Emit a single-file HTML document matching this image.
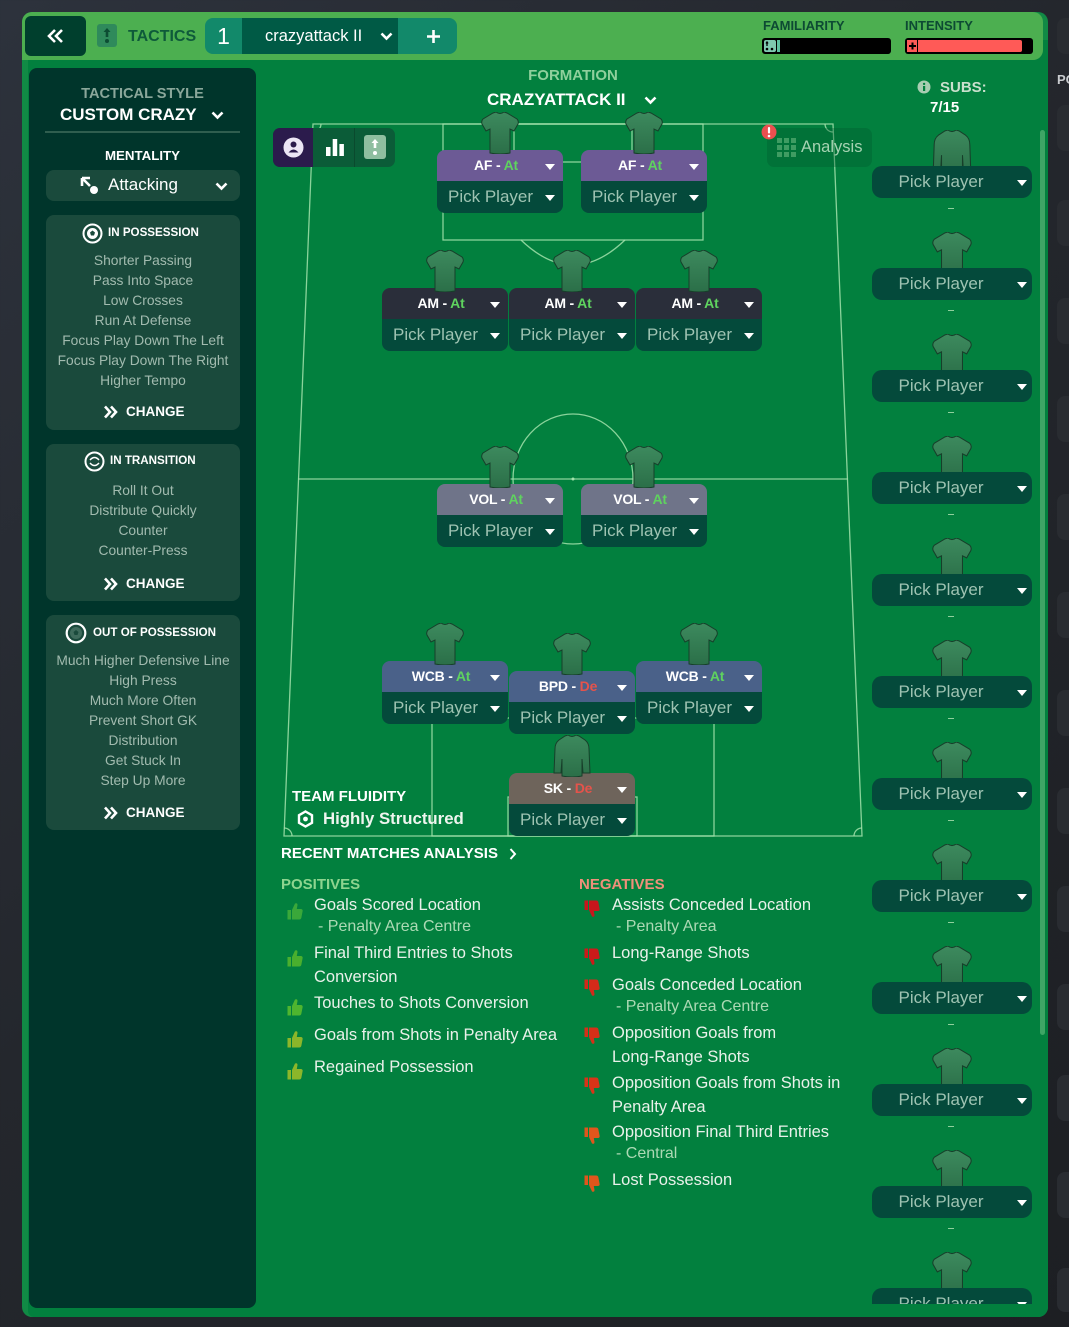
<!DOCTYPE html>
<html><head><meta charset="utf-8">
<style>
*{margin:0;padding:0;box-sizing:border-box}
html,body{width:1069px;height:1327px;overflow:hidden}
body{position:relative;background:linear-gradient(135deg,#2d323c 0%,#24272d 45%,#1d1f23 100%);font-family:"Liberation Sans",sans-serif;}
.a{position:absolute}
.t{position:absolute;white-space:nowrap}
.card{position:absolute;width:126px;z-index:3}
.role{position:relative;height:31px;line-height:31px;border-radius:8px 8px 0 0;text-align:center;font-weight:bold;font-size:14px;color:#fff;padding-right:8px;letter-spacing:-0.2px}
.pick{position:relative;height:32px;line-height:32px;border-radius:0 0 8px 8px;font-size:17px;color:#9ec3b2;padding-left:11px;background:#044a3b}
.tri{position:absolute;right:8px;top:50%;margin-top:-2px;width:0;height:0;border-left:5px solid transparent;border-right:5px solid transparent;border-top:6px solid #fff}
.r-af{background:#6c5a95}
.r-am{background:#2a2e3a}
.r-vol{background:#6f7489}
.r-wcb{background:#4a6189}
.r-sk{background:#6e645b}
.at{color:#5fd35f}
.de{color:#e5534b}
.shirt{position:absolute;z-index:4;width:40px;height:42px}
.sub{position:absolute;left:12px;width:160px;height:32px;line-height:32px;border-radius:10px;background:#044a3b;color:#9ec3b2;font-size:17px;text-align:center;padding-right:22px;z-index:2}
.sub .tri{right:5px}
.sshirt{position:absolute;left:69px;width:46px;height:44px;z-index:1}
.dash{position:absolute;left:88px;width:6px;height:1px;background:#8fd09c}
.box{position:absolute;left:46px;width:194px;background:#1a4a3c;border-radius:8px}
.item{position:absolute;left:46px;width:194px;text-align:center;font-size:13.8px;color:#a2bbaf;height:20px;line-height:20px;white-space:nowrap}
.hdr{position:absolute;font-size:11.6px;font-weight:bold;color:#fff;height:16px;line-height:16px;white-space:nowrap}
.chg{position:absolute;left:126px;font-size:13.5px;font-weight:bold;color:#fff;height:18px;line-height:18px}
.an{position:absolute;font-size:16.5px;color:#e9f1ea;height:22px;line-height:22px;white-space:nowrap}
.ans{position:absolute;font-size:16px;color:#acd9b4;height:22px;line-height:22px;white-space:nowrap}
.th{position:absolute;width:16px;height:18px}
.rb{position:absolute;left:1057px;width:30px;border-radius:8px;background:#292c31}
</style></head><body>
<svg width="0" height="0" style="position:absolute">
<defs>
<linearGradient id="sg" x1="0" y1="0" x2="0" y2="1"><stop offset="0" stop-color="#3d8a5e"/><stop offset="1" stop-color="#2b6f48"/></linearGradient>
</defs>
</svg>

<!-- right dark strip boxes -->
<div class="rb" style="top:18px;height:36px"></div>
<div class="t" style="left:1057px;top:72px;font-size:13px;font-weight:bold;color:#c9cccf">PO</div>
<div class="rb" style="top:105px;height:46px"></div>
<div class="rb" style="top:200px;height:46px"></div>
<div class="rb" style="top:298px;height:46px"></div>
<div class="rb" style="top:396px;height:46px"></div>
<div class="rb" style="top:494px;height:46px"></div>
<div class="rb" style="top:592px;height:46px"></div>
<div class="rb" style="top:690px;height:46px"></div>
<div class="rb" style="top:788px;height:46px"></div>
<div class="rb" style="top:886px;height:46px"></div>
<div class="rb" style="top:984px;height:46px"></div>
<div class="rb" style="top:1075px;height:46px"></div>
<div class="rb" style="top:1172px;height:46px"></div>
<div class="rb" style="top:1268px;height:44px"></div>

<!-- frame -->
<div class="a" style="left:22px;top:12px;width:1026px;height:1305px;background:#118a45;border-radius:10px"></div>
<div class="a" style="left:28px;top:40px;width:1020px;height:1277px;background:#02803e;border-radius:0 0 10px 6px"></div>
<div class="a" style="left:22px;top:12px;width:1021px;height:48px;background:#4caf50;border-radius:10px 10px 10px 0"></div>

<!-- top bar -->
<div class="a" style="left:25px;top:16px;width:61px;height:40px;background:#003f2d;border-radius:6px"></div>
<svg class="a" style="left:46px;top:28px" width="22" height="16" viewBox="0 0 22 16"><path d="M9 2 L3 8 L9 14 M16 2 L10 8 L16 14" fill="none" stroke="#fff" stroke-width="2.6"/></svg>
<div class="a" style="left:97px;top:24px;width:20px;height:23px;background:#2f8a5b;border-radius:3px"></div>
<svg class="a" style="left:97px;top:24px" width="20" height="23" viewBox="0 0 20 23"><path d="M10 4 L6.5 8 H8.7 V13 H11.3 V8 H13.5 Z" fill="#0c4d33"/><circle cx="10" cy="17" r="2" fill="#0c4d33"/></svg>
<div class="t" style="left:128px;top:27px;font-size:16px;font-weight:bold;color:#0e5a3a;line-height:20px">TACTICS</div>
<div class="a" style="left:205px;top:18px;width:252px;height:36px;background:#12896a;border-radius:8px"></div>
<div class="a" style="left:242px;top:18px;width:156px;height:36px;background:#005a45"></div>
<div class="t" style="left:205px;top:18px;width:37px;height:36px;line-height:36px;text-align:center;font-size:23px;color:#fff">1</div>
<div class="t" style="left:265px;top:26px;font-size:16.5px;color:#fff;line-height:20px">crazyattack II</div>
<svg class="a" style="left:380px;top:32px" width="13" height="9" viewBox="0 0 13 9"><path d="M1.5 1.5 L6.5 6.5 L11.5 1.5" fill="none" stroke="#fff" stroke-width="2.6"/></svg>
<svg class="a" style="left:426px;top:29px" width="15" height="15" viewBox="0 0 15 15"><path d="M7.5 1 V14 M1 7.5 H14" stroke="#fff" stroke-width="2.6"/></svg>

<div class="t" style="left:763px;top:18px;font-size:13px;font-weight:bold;color:#0d4a33;line-height:16px">FAMILIARITY</div>
<div class="a" style="left:762px;top:38px;width:129px;height:16px;background:#000;border-radius:3px"></div>
<div class="a" style="left:764px;top:40px;width:12px;height:12px;background:#7fc9b0;border-radius:2px"></div>
<svg class="a" style="left:764px;top:40px" width="12" height="12" viewBox="0 0 12 12"><path d="M3 2 V6 M2 3.5 L3 2 L4 3.5" stroke="#000" stroke-width="1.3" fill="none"/><circle cx="3" cy="9" r="1.3"/><circle cx="8" cy="9" r="1.3"/></svg>
<div class="a" style="left:777px;top:40px;width:3px;height:12px;background:#5fc2a2"></div>
<div class="t" style="left:905px;top:18px;font-size:13px;font-weight:bold;color:#0d4a33;line-height:16px">INTENSITY</div>
<div class="a" style="left:905px;top:38px;width:128px;height:16px;background:#000;border-radius:3px"></div>
<div class="a" style="left:907px;top:40px;width:115px;height:12px;background:#ff5a57;border-radius:2px"></div>
<div class="a" style="left:907px;top:40px;width:11px;height:12px;background:#ff5a57;border-right:1.5px solid #000"></div>
<svg class="a" style="left:907px;top:40px" width="11" height="12" viewBox="0 0 11 12"><path d="M5.5 2.5 V9.5 M2 6 H9" stroke="#000" stroke-width="2"/></svg>

<!-- left panel -->
<div class="a" style="left:29px;top:68px;width:227px;height:1240px;background:#00352b;border-radius:8px"></div>
<div class="t" style="left:29px;top:85px;width:227px;text-align:center;font-size:14.6px;font-weight:bold;color:#8aa79a;line-height:18px">TACTICAL STYLE</div>
<div class="t" style="left:60px;top:105px;font-size:17px;font-weight:bold;color:#fff;line-height:20px">CUSTOM CRAZY</div>
<svg class="a" style="left:211px;top:111px" width="13" height="9" viewBox="0 0 13 9"><path d="M1.5 1.5 L6.5 6.5 L11.5 1.5" fill="none" stroke="#fff" stroke-width="2.6"/></svg>
<div class="a" style="left:45px;top:131px;width:195px;height:2px;background:#2f5e4f"></div>
<div class="t" style="left:29px;top:148px;width:227px;text-align:center;font-size:13.3px;font-weight:bold;color:#fff;line-height:16px">MENTALITY</div>
<div class="box" style="top:170px;height:31px"></div>
<svg class="a" style="left:80px;top:176px" width="20" height="20" viewBox="0 0 20 20"><path d="M2 2 H10 M2 2 V10 M2 2 L10 10" stroke="#fff" stroke-width="2.6" fill="none"/><circle cx="14" cy="14" r="4" fill="#fff"/></svg>
<div class="t" style="left:108px;top:175px;font-size:17px;color:#fff;line-height:20px">Attacking</div>
<svg class="a" style="left:215px;top:182px" width="13" height="9" viewBox="0 0 13 9"><path d="M1.5 1.5 L6.5 6.5 L11.5 1.5" fill="none" stroke="#fff" stroke-width="2.6"/></svg>

<!-- in possession -->
<div class="box" style="top:215px;height:215px"></div>
<svg class="a" style="left:82px;top:223px" width="21" height="21" viewBox="0 0 21 21"><circle cx="10.5" cy="10.5" r="9" fill="none" stroke="#fff" stroke-width="2"/><circle cx="10.5" cy="10.5" r="5.5" fill="#fff"/><path d="M10.5 7.5 L13 9.5 L12 12.5 L9 12.5 L8 9.5Z" fill="#1a4a3c"/></svg>
<div class="hdr" style="left:108px;top:225px">IN POSSESSION</div>
<div class="item" style="top:251px">Shorter Passing</div>
<div class="item" style="top:271px">Pass Into Space</div>
<div class="item" style="top:291px">Low Crosses</div>
<div class="item" style="top:311px">Run At Defense</div>
<div class="item" style="top:331px">Focus Play Down The Left</div>
<div class="item" style="top:351px">Focus Play Down The Right</div>
<div class="item" style="top:371px">Higher Tempo</div>
<svg class="a" style="left:103px;top:405px" width="16" height="14" viewBox="0 0 16 14"><path d="M2 1.5 L7 7 L2 12.5 M8 1.5 L13 7 L8 12.5" fill="none" stroke="#fff" stroke-width="2.6"/></svg>
<div class="chg" style="top:403px">CHANGE</div>

<!-- in transition -->
<div class="box" style="top:444px;height:157px"></div>
<svg class="a" style="left:84px;top:451px" width="21" height="21" viewBox="0 0 21 21"><circle cx="10.5" cy="10.5" r="9" fill="none" stroke="#fff" stroke-width="2"/><path d="M6 9 Q10.5 4 15 9 M6 12 Q10.5 17 15 12" fill="none" stroke="#fff" stroke-width="1.5"/></svg>
<div class="hdr" style="left:110px;top:453px">IN TRANSITION</div>
<div class="item" style="top:481px">Roll It Out</div>
<div class="item" style="top:501px">Distribute Quickly</div>
<div class="item" style="top:521px">Counter</div>
<div class="item" style="top:541px">Counter-Press</div>
<svg class="a" style="left:103px;top:577px" width="16" height="14" viewBox="0 0 16 14"><path d="M2 1.5 L7 7 L2 12.5 M8 1.5 L13 7 L8 12.5" fill="none" stroke="#fff" stroke-width="2.6"/></svg>
<div class="chg" style="top:575px">CHANGE</div>

<!-- out of possession -->
<div class="box" style="top:615px;height:215px"></div>
<svg class="a" style="left:65px;top:622px" width="22" height="22" viewBox="0 0 22 22"><circle cx="11" cy="11" r="9.3" fill="none" stroke="#fff" stroke-width="2.2"/><circle cx="11" cy="11" r="6" fill="#3f6b5c"/><path d="M11 8 L13.5 10 L12.5 13 L9.5 13 L8.5 10Z" fill="#1a4a3c"/></svg>
<div class="hdr" style="left:93px;top:625px">OUT OF POSSESSION</div>
<div class="item" style="top:651px">Much Higher Defensive Line</div>
<div class="item" style="top:671px">High Press</div>
<div class="item" style="top:691px">Much More Often</div>
<div class="item" style="top:711px">Prevent Short GK</div>
<div class="item" style="top:731px">Distribution</div>
<div class="item" style="top:751px">Get Stuck In</div>
<div class="item" style="top:771px">Step Up More</div>
<svg class="a" style="left:103px;top:806px" width="16" height="14" viewBox="0 0 16 14"><path d="M2 1.5 L7 7 L2 12.5 M8 1.5 L13 7 L8 12.5" fill="none" stroke="#fff" stroke-width="2.6"/></svg>
<div class="chg" style="top:804px">CHANGE</div>

<!-- formation header -->
<div class="t" style="left:473px;top:67px;width:200px;text-align:center;font-size:15px;font-weight:bold;color:#8fd09c;line-height:18px">FORMATION</div>
<div class="t" style="left:487px;top:90px;font-size:17px;font-weight:bold;color:#fff;line-height:20px">CRAZYATTACK II</div>
<svg class="a" style="left:644px;top:96px" width="13" height="9" viewBox="0 0 13 9"><path d="M1.5 1.5 L6.5 6.5 L11.5 1.5" fill="none" stroke="#fff" stroke-width="2.6"/></svg>

<!-- subs header -->
<svg class="a" style="left:917px;top:80px" width="14" height="14" viewBox="0 0 14 14"><circle cx="7" cy="7" r="6.5" fill="#a9cdb2"/><rect x="6" y="6" width="2.2" height="5" fill="#02803e"/><circle cx="7.1" cy="3.9" r="1.2" fill="#02803e"/></svg>
<div class="t" style="left:940px;top:79px;font-size:15px;font-weight:bold;color:#c9e0cd;line-height:18px">SUBS:</div>
<div class="t" style="left:930px;top:99px;font-size:15px;font-weight:bold;color:#fff;line-height:18px">7/15</div>

<!-- pitch lines -->
<svg class="a" style="left:0;top:0;z-index:1" width="1069" height="1327" viewBox="0 0 1069 1327">
<g fill="none" stroke="#a3e2ab" stroke-width="1.3" stroke-opacity="0.85">
<polygon points="313,124 833,124 862,836 284,836"/>
<line x1="298" y1="479" x2="848" y2="479"/>
<rect x="443" y="124" width="260" height="116"/>
<rect x="514" y="124" width="118" height="38"/>
<path d="M521 240 Q573 290 625 240"/>
<ellipse cx="573" cy="479" rx="60" ry="65"/>
<rect x="432" y="718" width="282" height="118"/>
<rect x="508" y="797" width="129" height="39"/>
<path d="M321 124 A8 8 0 0 1 313 132"/>
<path d="M825 124 A8 8 0 0 0 833 132"/>
<path d="M284 828 A8 8 0 0 1 292 836"/>
<path d="M862 828 A8 8 0 0 0 854 836"/>
</g>
<circle cx="573" cy="479" r="1.5" fill="#a3e2ab"/>
</svg>

<!-- pitch toolbar -->
<div class="a" style="left:273px;top:128px;width:122px;height:39px;background:#0b5c38;border-radius:7px;z-index:2"></div>
<div class="a" style="left:273px;top:128px;width:40px;height:39px;background:#2b1b4c;border-radius:7px 0 0 7px;z-index:2"></div>
<div class="a" style="left:354px;top:128px;width:1px;height:39px;background:#0a4a2e;z-index:2"></div>
<svg class="a" style="left:283px;top:137px;z-index:3" width="21" height="21" viewBox="0 0 21 21"><circle cx="10.5" cy="10.5" r="10" fill="#ece6f5"/><circle cx="10.5" cy="7.5" r="3" fill="#2b1b4c"/><path d="M5.5 15.5 Q10.5 9.5 15.5 15.5 Z" fill="#2b1b4c"/></svg>
<svg class="a" style="left:325px;top:137px;z-index:3" width="20" height="20" viewBox="0 0 20 20"><rect x="1" y="10" width="4.5" height="9" fill="#fff"/><rect x="7.7" y="2" width="4.5" height="17" fill="#fff"/><rect x="14.4" y="7" width="4.5" height="12" fill="#fff"/></svg>
<div class="a" style="left:364px;top:135px;width:22px;height:24px;background:#8fbea0;border-radius:3px;z-index:3"></div>
<svg class="a" style="left:364px;top:135px;z-index:3" width="22" height="24" viewBox="0 0 22 24"><path d="M11 4 L7.5 8 H9.7 V13 H12.3 V8 H14.5 Z" fill="#fff"/><circle cx="11" cy="18" r="2" fill="#fff"/></svg>

<!-- analysis button -->
<div class="a" style="left:767px;top:128px;width:105px;height:39px;background:rgba(0,90,45,0.35);border-radius:7px;z-index:2"></div>
<svg class="a" style="left:777px;top:138px;z-index:3" width="19" height="19" viewBox="0 0 19 19" fill="#3f9c62"><rect x="0" y="0" width="5" height="5"/><rect x="7" y="0" width="5" height="5"/><rect x="14" y="0" width="5" height="5"/><rect x="0" y="7" width="5" height="5"/><rect x="7" y="7" width="5" height="5"/><rect x="14" y="7" width="5" height="5"/><rect x="0" y="14" width="5" height="5"/><rect x="7" y="14" width="5" height="5"/><rect x="14" y="14" width="5" height="5"/></svg>
<div class="t" style="left:801px;top:137px;font-size:16.5px;color:#a6d3b2;line-height:20px;z-index:3">Analysis</div>
<svg class="a" style="left:761px;top:124px;z-index:4" width="16" height="16" viewBox="0 0 16 16"><circle cx="8" cy="8" r="7.5" fill="#ea4f4f"/><rect x="6.9" y="3" width="2.2" height="6.5" rx="1" fill="#fff"/><circle cx="8" cy="12" r="1.3" fill="#fff"/></svg>

<!-- shirts on pitch -->
<svg class="shirt" style="left:480px;top:112px" viewBox="0 0 40 42"><path d="M13 1 L16 0 Q20 3 24 0 L27 1 L37 7 Q39 9 38 12 L34 19 L30 17 L30 41 Q20 43 10 41 L10 17 L6 19 L2 12 Q1 9 3 7 Z" fill="url(#sg)" stroke="#173f2a"/></svg>
<svg class="shirt" style="left:624px;top:112px" viewBox="0 0 40 42"><path d="M13 1 L16 0 Q20 3 24 0 L27 1 L37 7 Q39 9 38 12 L34 19 L30 17 L30 41 Q20 43 10 41 L10 17 L6 19 L2 12 Q1 9 3 7 Z" fill="url(#sg)" stroke="#173f2a"/></svg>
<svg class="shirt" style="left:425px;top:250px" viewBox="0 0 40 42"><path d="M13 1 L16 0 Q20 3 24 0 L27 1 L37 7 Q39 9 38 12 L34 19 L30 17 L30 41 Q20 43 10 41 L10 17 L6 19 L2 12 Q1 9 3 7 Z" fill="url(#sg)" stroke="#173f2a"/></svg>
<svg class="shirt" style="left:552px;top:250px" viewBox="0 0 40 42"><path d="M13 1 L16 0 Q20 3 24 0 L27 1 L37 7 Q39 9 38 12 L34 19 L30 17 L30 41 Q20 43 10 41 L10 17 L6 19 L2 12 Q1 9 3 7 Z" fill="url(#sg)" stroke="#173f2a"/></svg>
<svg class="shirt" style="left:679px;top:250px" viewBox="0 0 40 42"><path d="M13 1 L16 0 Q20 3 24 0 L27 1 L37 7 Q39 9 38 12 L34 19 L30 17 L30 41 Q20 43 10 41 L10 17 L6 19 L2 12 Q1 9 3 7 Z" fill="url(#sg)" stroke="#173f2a"/></svg>
<svg class="shirt" style="left:480px;top:446px" viewBox="0 0 40 42"><path d="M13 1 L16 0 Q20 3 24 0 L27 1 L37 7 Q39 9 38 12 L34 19 L30 17 L30 41 Q20 43 10 41 L10 17 L6 19 L2 12 Q1 9 3 7 Z" fill="url(#sg)" stroke="#173f2a"/></svg>
<svg class="shirt" style="left:624px;top:446px" viewBox="0 0 40 42"><path d="M13 1 L16 0 Q20 3 24 0 L27 1 L37 7 Q39 9 38 12 L34 19 L30 17 L30 41 Q20 43 10 41 L10 17 L6 19 L2 12 Q1 9 3 7 Z" fill="url(#sg)" stroke="#173f2a"/></svg>
<svg class="shirt" style="left:425px;top:623px" viewBox="0 0 40 42"><path d="M13 1 L16 0 Q20 3 24 0 L27 1 L37 7 Q39 9 38 12 L34 19 L30 17 L30 41 Q20 43 10 41 L10 17 L6 19 L2 12 Q1 9 3 7 Z" fill="url(#sg)" stroke="#173f2a"/></svg>
<svg class="shirt" style="left:552px;top:633px" viewBox="0 0 40 42"><path d="M13 1 L16 0 Q20 3 24 0 L27 1 L37 7 Q39 9 38 12 L34 19 L30 17 L30 41 Q20 43 10 41 L10 17 L6 19 L2 12 Q1 9 3 7 Z" fill="url(#sg)" stroke="#173f2a"/></svg>
<svg class="shirt" style="left:679px;top:623px" viewBox="0 0 40 42"><path d="M13 1 L16 0 Q20 3 24 0 L27 1 L37 7 Q39 9 38 12 L34 19 L30 17 L30 41 Q20 43 10 41 L10 17 L6 19 L2 12 Q1 9 3 7 Z" fill="url(#sg)" stroke="#173f2a"/></svg>
<svg class="shirt" style="left:552px;top:735px" viewBox="0 0 40 42"><path d="M13 1 L16 0 Q20 3 24 0 L27 1 L33 5 Q37 8 37 14 L38 38 L31 38 L30 24 L30 41 Q20 43 10 41 L10 24 L9 38 L2 38 L3 14 Q3 8 7 5 Z" fill="url(#sg)" stroke="#173f2a"/></svg>

<!-- cards -->
<div class="card" style="left:437px;top:150px"><div class="role r-af">AF - <span class="at">At</span><i class="tri"></i></div><div class="pick">Pick Player<i class="tri"></i></div></div>
<div class="card" style="left:581px;top:150px"><div class="role r-af">AF - <span class="at">At</span><i class="tri"></i></div><div class="pick">Pick Player<i class="tri"></i></div></div>
<div class="card" style="left:382px;top:288px"><div class="role r-am">AM - <span class="at">At</span><i class="tri"></i></div><div class="pick">Pick Player<i class="tri"></i></div></div>
<div class="card" style="left:509px;top:288px"><div class="role r-am">AM - <span class="at">At</span><i class="tri"></i></div><div class="pick">Pick Player<i class="tri"></i></div></div>
<div class="card" style="left:636px;top:288px"><div class="role r-am">AM - <span class="at">At</span><i class="tri"></i></div><div class="pick">Pick Player<i class="tri"></i></div></div>
<div class="card" style="left:437px;top:484px"><div class="role r-vol">VOL - <span class="at">At</span><i class="tri"></i></div><div class="pick">Pick Player<i class="tri"></i></div></div>
<div class="card" style="left:581px;top:484px"><div class="role r-vol">VOL - <span class="at">At</span><i class="tri"></i></div><div class="pick">Pick Player<i class="tri"></i></div></div>
<div class="card" style="left:382px;top:661px"><div class="role r-wcb">WCB - <span class="at">At</span><i class="tri"></i></div><div class="pick">Pick Player<i class="tri"></i></div></div>
<div class="card" style="left:509px;top:671px"><div class="role r-wcb">BPD - <span class="de">De</span><i class="tri"></i></div><div class="pick">Pick Player<i class="tri"></i></div></div>
<div class="card" style="left:636px;top:661px"><div class="role r-wcb">WCB - <span class="at">At</span><i class="tri"></i></div><div class="pick">Pick Player<i class="tri"></i></div></div>
<div class="card" style="left:509px;top:773px"><div class="role r-sk">SK - <span class="de">De</span><i class="tri"></i></div><div class="pick">Pick Player<i class="tri"></i></div></div>

<!-- team fluidity -->
<div class="t" style="left:292px;top:788px;font-size:15px;font-weight:bold;color:#fff;line-height:18px;z-index:3">TEAM FLUIDITY</div>
<svg class="a" style="left:297px;top:810px;z-index:3" width="17" height="18" viewBox="0 0 17 18"><path d="M8.5 1.5 L15 5.2 V12.8 L8.5 16.5 L2 12.8 V5.2 Z" fill="none" stroke="#fff" stroke-width="2.4"/><circle cx="8.5" cy="9" r="2.4" fill="#fff"/></svg>
<div class="t" style="left:323px;top:808px;font-size:16.8px;font-weight:bold;color:#eef5ee;line-height:22px;z-index:3">Highly Structured</div>

<!-- recent matches -->
<div class="t" style="left:281px;top:845px;font-size:15px;font-weight:bold;color:#fff;line-height:18px">RECENT MATCHES ANALYSIS</div>
<svg class="a" style="left:509px;top:848px" width="8" height="12" viewBox="0 0 8 12"><path d="M1.5 1 L6 6 L1.5 11" fill="none" stroke="#fff" stroke-width="2"/></svg>
<div class="t" style="left:281px;top:876px;font-size:15px;font-weight:bold;color:#8ed48f;line-height:18px">POSITIVES</div>
<div class="t" style="left:579px;top:876px;font-size:15px;font-weight:bold;color:#f0907a;line-height:18px">NEGATIVES</div>

<!-- positive thumbs -->
<svg class="th" style="left:287px;top:902px" viewBox="0 0 16 18"><path d="M0.5 8h3.5v9.5h-3.5z M5 8 L8 1.5 Q10.5 0.5 10.5 3 L9.8 7 H14 Q16 7.3 15.6 9.3 L14.3 16 Q13.8 17.5 12.2 17.5 H5 Z" fill="#3aa83a"/></svg>
<svg class="th" style="left:287px;top:949px" viewBox="0 0 16 18"><path d="M0.5 8h3.5v9.5h-3.5z M5 8 L8 1.5 Q10.5 0.5 10.5 3 L9.8 7 H14 Q16 7.3 15.6 9.3 L14.3 16 Q13.8 17.5 12.2 17.5 H5 Z" fill="#4aaf2e"/></svg>
<svg class="th" style="left:287px;top:998px" viewBox="0 0 16 18"><path d="M0.5 8h3.5v9.5h-3.5z M5 8 L8 1.5 Q10.5 0.5 10.5 3 L9.8 7 H14 Q16 7.3 15.6 9.3 L14.3 16 Q13.8 17.5 12.2 17.5 H5 Z" fill="#4fb52f"/></svg>
<svg class="th" style="left:287px;top:1030px" viewBox="0 0 16 18"><path d="M0.5 8h3.5v9.5h-3.5z M5 8 L8 1.5 Q10.5 0.5 10.5 3 L9.8 7 H14 Q16 7.3 15.6 9.3 L14.3 16 Q13.8 17.5 12.2 17.5 H5 Z" fill="#8cb62a"/></svg>
<svg class="th" style="left:287px;top:1062px" viewBox="0 0 16 18"><path d="M0.5 8h3.5v9.5h-3.5z M5 8 L8 1.5 Q10.5 0.5 10.5 3 L9.8 7 H14 Q16 7.3 15.6 9.3 L14.3 16 Q13.8 17.5 12.2 17.5 H5 Z" fill="#8cb62a"/></svg>

<div class="an" style="left:314px;top:894px">Goals Scored Location</div>
<div class="ans" style="left:318px;top:916px">- Penalty Area Centre</div>
<div class="an" style="left:314px;top:942px">Final Third Entries to Shots</div>
<div class="an" style="left:314px;top:966px">Conversion</div>
<div class="an" style="left:314px;top:992px">Touches to Shots Conversion</div>
<div class="an" style="left:314px;top:1024px">Goals from Shots in Penalty Area</div>
<div class="an" style="left:314px;top:1056px">Regained Possession</div>

<!-- negative thumbs -->
<svg class="th" style="left:584px;top:900px" viewBox="0 0 16 18"><g transform="translate(0,18) scale(1,-1)"><path d="M0.5 8h3.5v9.5h-3.5z M5 8 L8 1.5 Q10.5 0.5 10.5 3 L9.8 7 H14 Q16 7.3 15.6 9.3 L14.3 16 Q13.8 17.5 12.2 17.5 H5 Z" fill="#c8161c"/></g></svg>
<svg class="th" style="left:584px;top:948px" viewBox="0 0 16 18"><g transform="translate(0,18) scale(1,-1)"><path d="M0.5 8h3.5v9.5h-3.5z M5 8 L8 1.5 Q10.5 0.5 10.5 3 L9.8 7 H14 Q16 7.3 15.6 9.3 L14.3 16 Q13.8 17.5 12.2 17.5 H5 Z" fill="#cc1a1a"/></g></svg>
<svg class="th" style="left:584px;top:979px" viewBox="0 0 16 18"><g transform="translate(0,18) scale(1,-1)"><path d="M0.5 8h3.5v9.5h-3.5z M5 8 L8 1.5 Q10.5 0.5 10.5 3 L9.8 7 H14 Q16 7.3 15.6 9.3 L14.3 16 Q13.8 17.5 12.2 17.5 H5 Z" fill="#d42a1a"/></g></svg>
<svg class="th" style="left:584px;top:1027px" viewBox="0 0 16 18"><g transform="translate(0,18) scale(1,-1)"><path d="M0.5 8h3.5v9.5h-3.5z M5 8 L8 1.5 Q10.5 0.5 10.5 3 L9.8 7 H14 Q16 7.3 15.6 9.3 L14.3 16 Q13.8 17.5 12.2 17.5 H5 Z" fill="#d63018"/></g></svg>
<svg class="th" style="left:584px;top:1077px" viewBox="0 0 16 18"><g transform="translate(0,18) scale(1,-1)"><path d="M0.5 8h3.5v9.5h-3.5z M5 8 L8 1.5 Q10.5 0.5 10.5 3 L9.8 7 H14 Q16 7.3 15.6 9.3 L14.3 16 Q13.8 17.5 12.2 17.5 H5 Z" fill="#d83418"/></g></svg>
<svg class="th" style="left:584px;top:1127px" viewBox="0 0 16 18"><g transform="translate(0,18) scale(1,-1)"><path d="M0.5 8h3.5v9.5h-3.5z M5 8 L8 1.5 Q10.5 0.5 10.5 3 L9.8 7 H14 Q16 7.3 15.6 9.3 L14.3 16 Q13.8 17.5 12.2 17.5 H5 Z" fill="#e0561c"/></g></svg>
<svg class="th" style="left:584px;top:1175px" viewBox="0 0 16 18"><g transform="translate(0,18) scale(1,-1)"><path d="M0.5 8h3.5v9.5h-3.5z M5 8 L8 1.5 Q10.5 0.5 10.5 3 L9.8 7 H14 Q16 7.3 15.6 9.3 L14.3 16 Q13.8 17.5 12.2 17.5 H5 Z" fill="#e0561c"/></g></svg>

<div class="an" style="left:612px;top:894px">Assists Conceded Location</div>
<div class="ans" style="left:616px;top:916px">- Penalty Area</div>
<div class="an" style="left:612px;top:942px">Long-Range Shots</div>
<div class="an" style="left:612px;top:974px">Goals Conceded Location</div>
<div class="ans" style="left:616px;top:996px">- Penalty Area Centre</div>
<div class="an" style="left:612px;top:1022px">Opposition Goals from</div>
<div class="an" style="left:612px;top:1046px">Long-Range Shots</div>
<div class="an" style="left:612px;top:1072px">Opposition Goals from Shots in</div>
<div class="an" style="left:612px;top:1096px">Penalty Area</div>
<div class="an" style="left:612px;top:1121px">Opposition Final Third Entries</div>
<div class="ans" style="left:616px;top:1143px">- Central</div>
<div class="an" style="left:612px;top:1169px">Lost Possession</div>

<!-- scrollbar -->
<div class="a" style="left:1040px;top:130px;width:5px;height:905px;background:#3ea565;border-radius:3px"></div>

<!-- subs -->
<div class="a" style="left:860px;top:120px;width:180px;height:1184px;overflow:hidden">
<svg class="sshirt" style="top:10px" viewBox="0 0 40 42"><path d="M13 1 L16 0 Q20 3 24 0 L27 1 L33 5 Q37 8 37 14 L38 42 L31 42 L30 24 L30 42 L10 42 L10 24 L9 42 L2 42 L3 14 Q3 8 7 5 Z" fill="url(#sg)" stroke="#173f2a"/></svg>
<div class="sub" style="top:46px">Pick Player<i class="tri"></i></div><div class="dash" style="top:88px"></div>
<svg class="sshirt" style="top:112px" viewBox="0 0 40 42"><path d="M13 1 L16 0 Q20 3 24 0 L27 1 L37 7 Q39 9 38 12 L34 19 L30 17 L30 42 L10 42 L10 17 L6 19 L2 12 Q1 9 3 7 Z" fill="url(#sg)" stroke="#173f2a"/></svg>
<div class="sub" style="top:148px">Pick Player<i class="tri"></i></div><div class="dash" style="top:190px"></div>
<svg class="sshirt" style="top:214px" viewBox="0 0 40 42"><path d="M13 1 L16 0 Q20 3 24 0 L27 1 L37 7 Q39 9 38 12 L34 19 L30 17 L30 42 L10 42 L10 17 L6 19 L2 12 Q1 9 3 7 Z" fill="url(#sg)" stroke="#173f2a"/></svg>
<div class="sub" style="top:250px">Pick Player<i class="tri"></i></div><div class="dash" style="top:292px"></div>
<svg class="sshirt" style="top:316px" viewBox="0 0 40 42"><path d="M13 1 L16 0 Q20 3 24 0 L27 1 L37 7 Q39 9 38 12 L34 19 L30 17 L30 42 L10 42 L10 17 L6 19 L2 12 Q1 9 3 7 Z" fill="url(#sg)" stroke="#173f2a"/></svg>
<div class="sub" style="top:352px">Pick Player<i class="tri"></i></div><div class="dash" style="top:394px"></div>
<svg class="sshirt" style="top:418px" viewBox="0 0 40 42"><path d="M13 1 L16 0 Q20 3 24 0 L27 1 L37 7 Q39 9 38 12 L34 19 L30 17 L30 42 L10 42 L10 17 L6 19 L2 12 Q1 9 3 7 Z" fill="url(#sg)" stroke="#173f2a"/></svg>
<div class="sub" style="top:454px">Pick Player<i class="tri"></i></div><div class="dash" style="top:496px"></div>
<svg class="sshirt" style="top:520px" viewBox="0 0 40 42"><path d="M13 1 L16 0 Q20 3 24 0 L27 1 L37 7 Q39 9 38 12 L34 19 L30 17 L30 42 L10 42 L10 17 L6 19 L2 12 Q1 9 3 7 Z" fill="url(#sg)" stroke="#173f2a"/></svg>
<div class="sub" style="top:556px">Pick Player<i class="tri"></i></div><div class="dash" style="top:598px"></div>
<svg class="sshirt" style="top:622px" viewBox="0 0 40 42"><path d="M13 1 L16 0 Q20 3 24 0 L27 1 L37 7 Q39 9 38 12 L34 19 L30 17 L30 42 L10 42 L10 17 L6 19 L2 12 Q1 9 3 7 Z" fill="url(#sg)" stroke="#173f2a"/></svg>
<div class="sub" style="top:658px">Pick Player<i class="tri"></i></div><div class="dash" style="top:700px"></div>
<svg class="sshirt" style="top:724px" viewBox="0 0 40 42"><path d="M13 1 L16 0 Q20 3 24 0 L27 1 L37 7 Q39 9 38 12 L34 19 L30 17 L30 42 L10 42 L10 17 L6 19 L2 12 Q1 9 3 7 Z" fill="url(#sg)" stroke="#173f2a"/></svg>
<div class="sub" style="top:760px">Pick Player<i class="tri"></i></div><div class="dash" style="top:802px"></div>
<svg class="sshirt" style="top:826px" viewBox="0 0 40 42"><path d="M13 1 L16 0 Q20 3 24 0 L27 1 L37 7 Q39 9 38 12 L34 19 L30 17 L30 42 L10 42 L10 17 L6 19 L2 12 Q1 9 3 7 Z" fill="url(#sg)" stroke="#173f2a"/></svg>
<div class="sub" style="top:862px">Pick Player<i class="tri"></i></div><div class="dash" style="top:904px"></div>
<svg class="sshirt" style="top:928px" viewBox="0 0 40 42"><path d="M13 1 L16 0 Q20 3 24 0 L27 1 L37 7 Q39 9 38 12 L34 19 L30 17 L30 42 L10 42 L10 17 L6 19 L2 12 Q1 9 3 7 Z" fill="url(#sg)" stroke="#173f2a"/></svg>
<div class="sub" style="top:964px">Pick Player<i class="tri"></i></div><div class="dash" style="top:1006px"></div>
<svg class="sshirt" style="top:1030px" viewBox="0 0 40 42"><path d="M13 1 L16 0 Q20 3 24 0 L27 1 L37 7 Q39 9 38 12 L34 19 L30 17 L30 42 L10 42 L10 17 L6 19 L2 12 Q1 9 3 7 Z" fill="url(#sg)" stroke="#173f2a"/></svg>
<div class="sub" style="top:1066px">Pick Player<i class="tri"></i></div><div class="dash" style="top:1108px"></div>
<svg class="sshirt" style="top:1132px" viewBox="0 0 40 42"><path d="M13 1 L16 0 Q20 3 24 0 L27 1 L37 7 Q39 9 38 12 L34 19 L30 17 L30 42 L10 42 L10 17 L6 19 L2 12 Q1 9 3 7 Z" fill="url(#sg)" stroke="#173f2a"/></svg>
<div class="sub" style="top:1168px">Pick Player<i class="tri"></i></div>
</div>

</body></html>
